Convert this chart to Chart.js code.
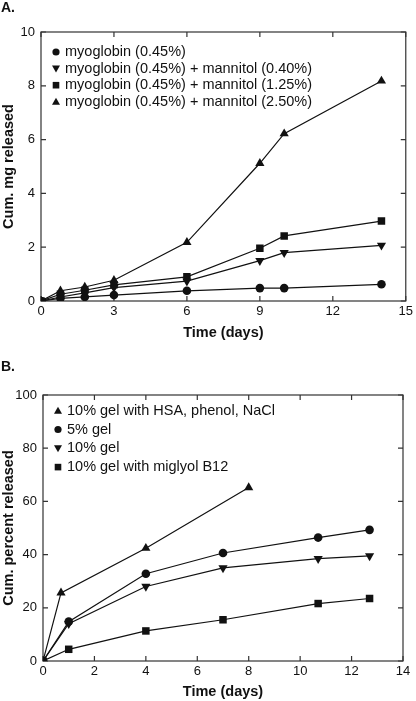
<!DOCTYPE html>
<html>
<head>
<meta charset="utf-8">
<script src="https://cdn.jsdelivr.net/npm/chart.js@4.4.1/dist/chart.umd.min.js"></script>
<style>
  html, body { margin: 0; padding: 0; background: #fff; }
  #wrap { position: relative; width: 416px; height: 701px; }
  .panel { position: absolute; left: 0; width: 416px; }
  #panelA { top: 0; height: 342px; }
  #panelB { top: 342px; height: 359px; }
  .tag { position: absolute; left: 1px; font: bold 14px "Liberation Sans", Arial, sans-serif; color: #111; }
</style>
</head>
<body>
<div id="wrap">
  <div class="panel" id="panelA"><canvas id="chartA"></canvas></div>
  <div class="panel" id="panelB"><canvas id="chartB"></canvas></div>
  <div class="tag" style="top:-1px">A.</div>
  <div class="tag" style="top:358px">B.</div>
</div>
<script>
// Panel A data (cumulative mg released vs days)
const daysA = [0, 0.8, 1.8, 3, 6, 9, 10, 14];
const myoglobin = [0, 0.1, 0.15, 0.22, 0.38, 0.48, 0.48, 0.62];
const mannitol040 = [0, 0.15, 0.3, 0.5, 0.74, 1.5, 1.8, 2.07];
const mannitol125 = [0, 0.25, 0.4, 0.6, 0.9, 1.96, 2.42, 2.97];
const mannitol250 = [0, 0.38, 0.52, 0.77, 2.18, 5.12, 6.22, 8.18];
const labelsA = [
  'myoglobin (0.45%)',
  'myoglobin (0.45%) + mannitol (0.40%)',
  'myoglobin (0.45%) + mannitol (1.25%)',
  'myoglobin (0.45%) + mannitol (2.50%)'
];

// Panel B data (cumulative percent released vs days)
const daysHsa = [0, 0.7, 4, 8];
const hsaGel = [0, 25.6, 42.4, 65.2];
const daysB = [0, 1, 4, 7, 10.7, 12.7];
const gel5 = [0, 14.8, 32.8, 40.6, 46.4, 49.3];
const gel10 = [0, 14, 28, 35, 38.5, 39.5];
const miglyol = [0, 4.4, 11.3, 15.5, 21.6, 23.5];
const labelsB = [
  '10% gel with HSA, phenol, NaCl',
  '5% gel',
  '10% gel',
  '10% gel with miglyol B12'
];

const INK = '#111';
const FONT = '"Liberation Sans", Arial, Helvetica, sans-serif';

function pairs(xs, ys) {
  return xs.map((x, i) => ({ x: x, y: ys[i] }));
}

// marker shapes for the data points
const markers = {
  circle: { pointStyle: 'circle', radius: 4.3, rotation: 0 },
  up: { pointStyle: 'triangle', radius: 5.3, rotation: 0 },
  down: { pointStyle: 'triangle', radius: 5.3, rotation: 180 },
  square: { pointStyle: 'rect', radius: 5.3, rotation: 0 }
};

function series(label, data, shape) {
  const m = markers[shape];
  return {
    label: label,
    data: data,
    shape: shape,
    borderColor: INK,
    backgroundColor: INK,
    borderWidth: 1.2,
    pointStyle: m.pointStyle,
    pointRadius: m.radius,
    pointRotation: m.rotation,
    pointBorderWidth: 0,
    pointBackgroundColor: INK,
    tension: 0
  };
}

// box frame with inward ticks on all four sides
const frameTicks = {
  id: 'frameTicks',
  beforeDatasetsDraw(chart) {
    const { ctx, chartArea: a, scales: { x, y } } = chart;
    ctx.save();
    ctx.strokeStyle = '#333';
    ctx.lineWidth = 1.2;
    ctx.strokeRect(a.left, a.top, a.right - a.left, a.bottom - a.top);
    ctx.beginPath();
    x.ticks.forEach(t => {
      const px = x.getPixelForValue(t.value);
      ctx.moveTo(px, a.bottom); ctx.lineTo(px, a.bottom - 5);
      ctx.moveTo(px, a.top); ctx.lineTo(px, a.top + 5);
    });
    y.ticks.forEach(t => {
      const py = y.getPixelForValue(t.value);
      ctx.moveTo(a.left, py); ctx.lineTo(a.left + 5, py);
      ctx.moveTo(a.right, py); ctx.lineTo(a.right - 5, py);
    });
    ctx.stroke();
    ctx.restore();
  }
};

function drawMarker(ctx, shape, x, y) {
  ctx.beginPath();
  if (shape === 'circle') {
    ctx.arc(x, y, 3.6, 0, Math.PI * 2);
  } else if (shape === 'square') {
    ctx.rect(x - 3.3, y - 3.3, 6.6, 6.6);
  } else if (shape === 'up') {
    ctx.moveTo(x, y - 4); ctx.lineTo(x + 4, y + 3); ctx.lineTo(x - 4, y + 3); ctx.closePath();
  } else {
    ctx.moveTo(x, y + 4); ctx.lineTo(x + 4, y - 3); ctx.lineTo(x - 4, y - 3); ctx.closePath();
  }
  ctx.fill();
}

// inset legend drawn inside the plot area
const insetLegend = {
  id: 'insetLegend',
  afterDraw(chart, args, opts) {
    const { ctx } = chart;
    ctx.save();
    ctx.fillStyle = INK;
    ctx.font = '14.5px ' + FONT;
    ctx.textBaseline = 'middle';
    opts.order.forEach((idx, row) => {
      const ds = chart.data.datasets[idx];
      const yy = opts.y + row * opts.gap;
      drawMarker(ctx, ds.shape, opts.x, yy);
      ctx.fillText(ds.label, opts.x + 9, yy);
    });
    ctx.restore();
  }
};

function makeChart(id, datasets, cfg) {
  return new Chart(document.getElementById(id), {
    type: 'line',
    data: { datasets: datasets },
    plugins: [frameTicks, insetLegend],
    options: {
      responsive: true,
      maintainAspectRatio: false,
      animation: false,
      layout: { padding: { top: cfg.top, right: cfg.right, left: 0, bottom: 0 } },
      plugins: {
        legend: { display: false },
        tooltip: { enabled: false },
        insetLegend: cfg.legend
      },
      scales: {
        x: {
          type: 'linear',
          min: cfg.xMin, max: cfg.xMax,
          afterFit: s => { s.height = cfg.xHeight; },
          border: { display: false },
          grid: { display: false, drawTicks: false },
          ticks: { stepSize: cfg.xStep, color: INK, padding: 3, font: { family: FONT, size: 13 } },
          title: { display: true, text: 'Time (days)', color: INK, padding: 0, font: { family: FONT, size: 14.5, weight: 'bold' } }
        },
        y: {
          min: cfg.yMin, max: cfg.yMax,
          afterFit: s => { s.width = cfg.yWidth; },
          border: { display: false },
          grid: { display: false, drawTicks: false },
          ticks: { stepSize: cfg.yStep, color: INK, padding: 6, font: { family: FONT, size: 13 } },
          title: { display: true, text: cfg.yTitle, color: INK, padding: 0, font: { family: FONT, size: 14.5, weight: 'bold' } }
        }
      }
    }
  });
}

makeChart('chartA', [
  series(labelsA[0], pairs(daysA, myoglobin), 'circle'),
  series(labelsA[1], pairs(daysA, mannitol040), 'down'),
  series(labelsA[2], pairs(daysA, mannitol125), 'square'),
  series(labelsA[3], pairs(daysA, mannitol250), 'up')
], {
  top: 32, right: 5, xHeight: 41, yWidth: 41,
  xMin: 0, xMax: 15, xStep: 3, yMin: 0, yMax: 10, yStep: 2,
  yTitle: 'Cum. mg released',
  legend: { x: 56, y: 52, gap: 16.6, order: [0, 1, 2, 3] }
});

makeChart('chartB', [
  series(labelsB[0], pairs(daysHsa, hsaGel), 'up'),
  series(labelsB[1], pairs(daysB, gel5), 'circle'),
  series(labelsB[2], pairs(daysB, gel10), 'down'),
  series(labelsB[3], pairs(daysB, miglyol), 'square')
], {
  top: 53, right: 13, xHeight: 40, yWidth: 43,
  xMin: 0, xMax: 14, xStep: 2, yMin: 0, yMax: 100, yStep: 20,
  yTitle: 'Cum. percent released',
  legend: { x: 58, y: 68.7, gap: 18.8, order: [0, 1, 2, 3] }
});
</script>
</body>
</html>
